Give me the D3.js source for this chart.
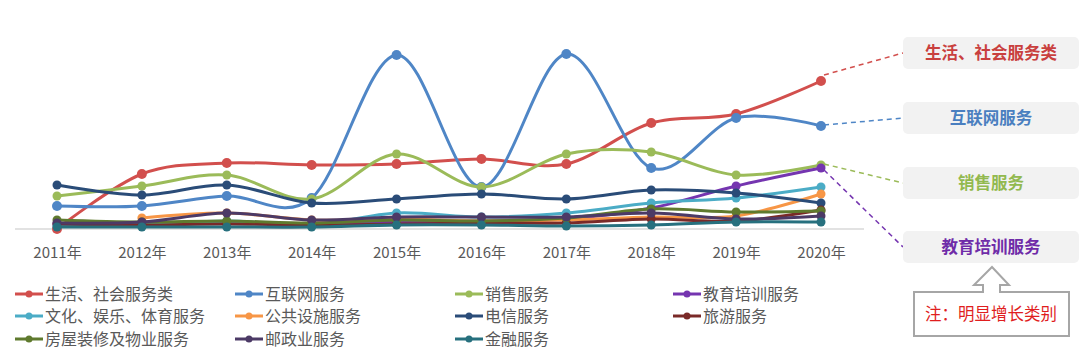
<!DOCTYPE html>
<html><head><meta charset="utf-8">
<script src="https://cdn.jsdelivr.net/npm/d3@7"></script>
<style>
html,body{margin:0;padding:0;background:#fff;}
svg{display:block;font-family:"Noto Sans CJK SC","Noto Sans",sans-serif;}
</style></head>
<body><svg id="c" width="1080" height="358"></svg>
<script>
const years = ["2011年","2012年","2013年","2014年","2015年","2016年","2017年","2018年","2019年","2020年"];
const seriesNames = ["生活、社会服务类","互联网服务","销售服务","教育培训服务","文化、娱乐、体育服务","公共设施服务","电信服务","旅游服务","房屋装修及物业服务","邮政业服务","金融服务"];
const shenghuo = [0,55,66,64,65,70,65,106,115,148];
const hulianwang = [23,23,33,31,174,42,175,61,111,103];
const xiaoshou = [33,43,54,30,75,42,75,77,54,64];
const jiaoyu = [5,5,7,5,7,8,10,21,43,61];
const wenhua = [3,4,8,4,16,12,16,26,31,42];
const gonggong = [null,11,16,9,10,8,9,12,13,35];
const dianxin = [44,34,44,26,30,35,30,39,36,26];
const lvyou = [5,4,5,4,5,6,6,10,8,19];
const fangwu = [9,7,8,6,9,8,11,20,17,18];
const youzheng = [6,7,16,9,12,12,12,16,10,13];
const jinrong = [2,2,2,2,4,4,3,4,7,7];
const seriesValues = [shenghuo,hulianwang,xiaoshou,jiaoyu,wenhua,gonggong,dianxin,lvyou,fangwu,youzheng,jinrong];
const colors = ["#D24F4D","#4F86C6","#9BBB59","#7535B0","#4BACC6","#F79646","#2A4C78","#7A2A28","#5F7A2E","#4C3A66","#27707E"];
const highlighted = ["生活、社会服务类","互联网服务","销售服务","教育培训服务"];
const noteText = "注：明显增长类别";

const svg = d3.select("#c");
const x = d3.scalePoint().domain(years).range([57,821]);
const y = d3.scaleLinear().domain([0,180]).range([229,49]);

// axis
const xAxis = d3.axisBottom(x).tickSize(0).tickPadding(18);
const ag = svg.append("g").attr("transform","translate(0,229)").call(xAxis);
ag.select(".domain").remove();
ag.append("line").attr("x1",15).attr("x2",864).attr("y1",0).attr("y2",0).attr("stroke","#D9D9D9").attr("stroke-width",1.5);
ag.selectAll(".tick text").attr("fill","#595959").attr("font-size",15).attr("font-family","\"Noto Sans CJK SC\",sans-serif");

const line = d3.line().defined(d=>d[1]!==null).x(d=>x(d[0])).y(d=>y(d[1])).curve(d3.curveCardinal.tension(0));

seriesNames.forEach((name,i)=>{
  const pts = years.map((yr,j)=>[yr,seriesValues[i][j]]);
  const g = svg.append("g");
  g.append("path").datum(pts).attr("d",line).attr("fill","none").attr("stroke",colors[i]).attr("stroke-width",3);
  g.selectAll("circle").data(pts.filter(d=>d[1]!==null)).join("circle")
    .attr("cx",d=>x(d[0])).attr("cy",d=>y(d[1])).attr("r",i<2?5:4.5).attr("fill",colors[i]);
});

// annotation boxes
const boxY = [37,102,167,231];
const boxColors = ["#C9403E","#4A7FC0","#92B94F","#6F2CA8"];
highlighted.forEach((name,k)=>{
  const i = seriesNames.indexOf(name);
  const px = x(years[9]), py = y(seriesValues[i][9]);
  svg.append("line").attr("x1",px+3).attr("y1",py + (k===0?-6:(k===3?2:-1))).attr("x2",903).attr("y2",boxY[k]+16)
    .attr("stroke",colors[i]).attr("stroke-width",1.5).attr("stroke-dasharray","5,4");
  svg.append("rect").attr("x",903).attr("y",boxY[k]).attr("width",176).attr("height",32).attr("rx",5).attr("fill","#F2F2F2");
  svg.append("text").attr("x",991).attr("y",boxY[k]+16).attr("dy","0.36em").attr("text-anchor","middle")
    .attr("font-size",16.5).attr("font-weight","bold").attr("fill",boxColors[k]).text(name);
});

// callout arrow box
const callout = "M992,267 L1009,285 L1000,285 L1000,292 L1069,292 L1069,336 L914,336 L914,292 L983,292 L983,285 L974,285 Z";
svg.append("path").attr("d",callout).attr("fill","#fff").attr("stroke","#A6A6A6").attr("stroke-width",2);
svg.append("text").attr("x",991).attr("y",314).attr("dy","0.36em").attr("text-anchor","middle")
  .attr("font-size",16.5).attr("fill","#E01E1E").text(noteText);

// legend
const colX = [15,235,455,673];
const rowY = [294,316,339];
seriesNames.forEach((name,i)=>{
  const r = Math.floor(i/4), c = i%4;
  const g = svg.append("g").attr("transform",`translate(${colX[c]},${rowY[r]})`);
  g.append("line").attr("x1",0).attr("x2",28).attr("stroke",colors[i]).attr("stroke-width",3);
  g.append("circle").attr("cx",14).attr("r",3.5).attr("fill",colors[i]);
  g.append("text").attr("x",30).attr("dy","0.36em").attr("font-size",16).attr("fill","#595959").text(name);
});
</script></body></html>
